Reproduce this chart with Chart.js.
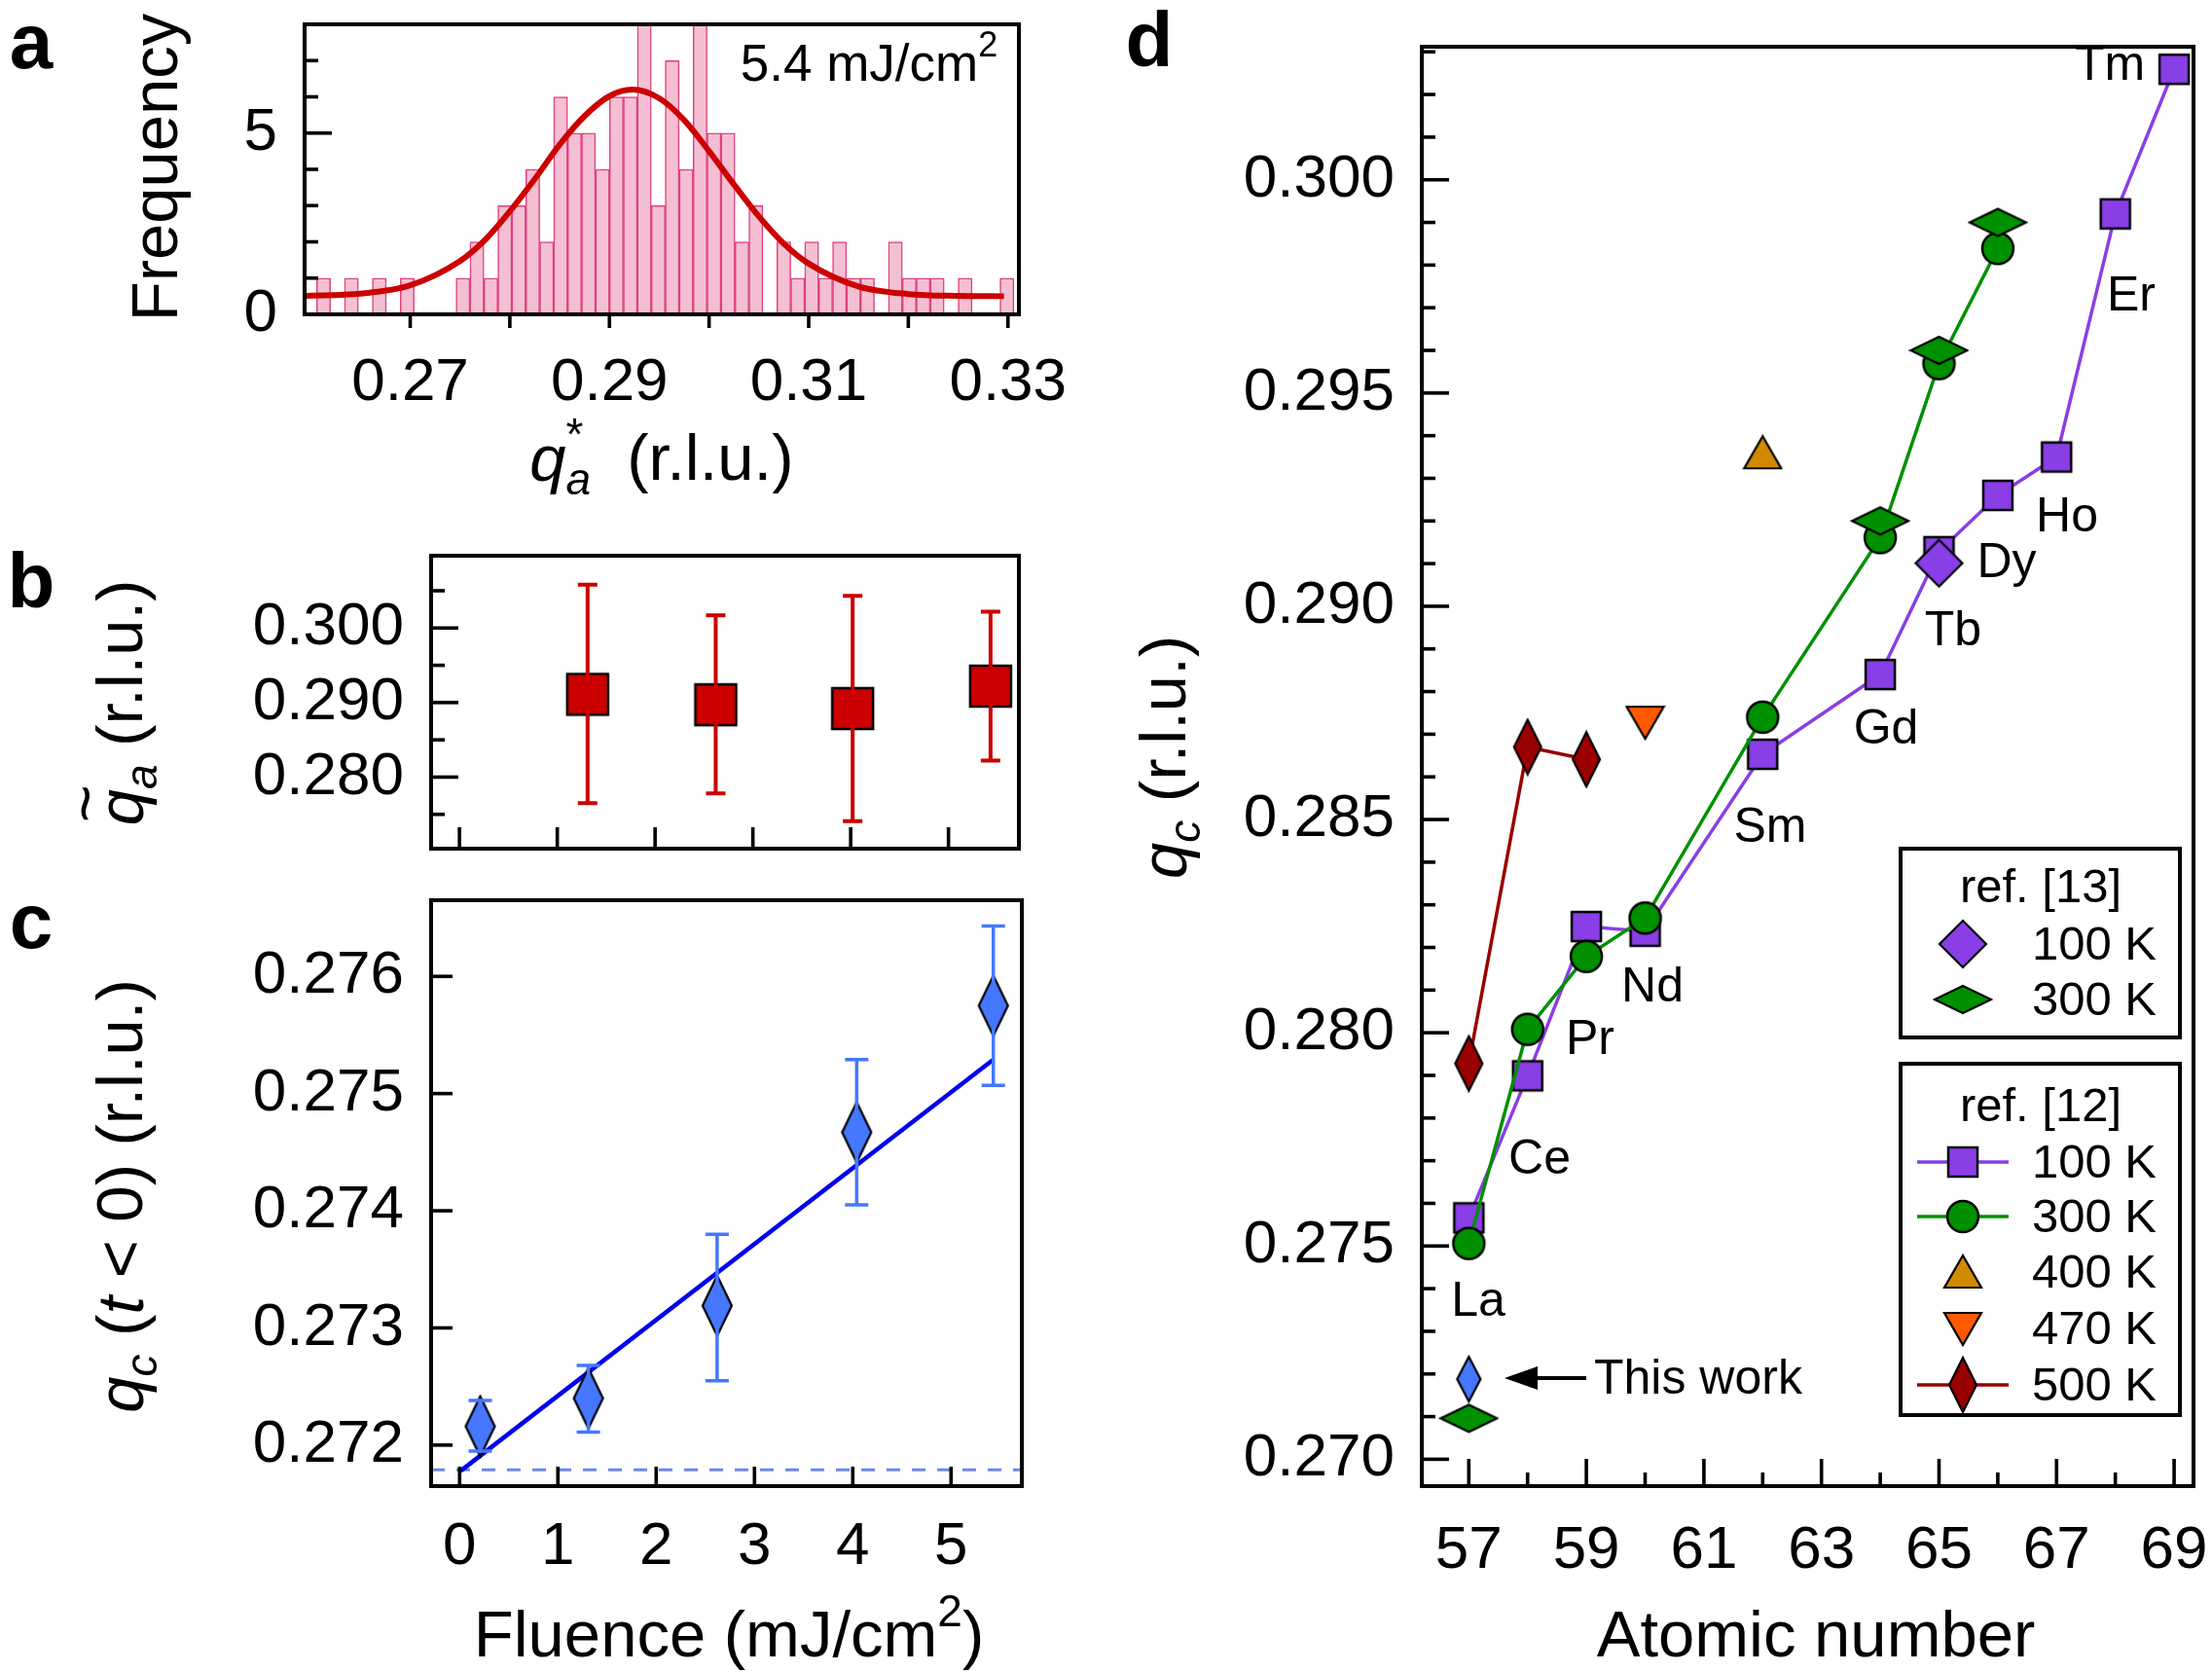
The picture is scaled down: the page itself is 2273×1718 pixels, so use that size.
<!DOCTYPE html>
<html><head><meta charset="utf-8">
<script src="https://cdn.jsdelivr.net/npm/chart.js@4"></script>
<style>
body{margin:0;background:#fff;width:2273px;height:1718px;overflow:hidden;position:relative}
canvas{position:absolute}
</style></head><body>
<canvas id="ov" width="2273" height="1718" style="left:0;top:0;z-index:10;pointer-events:none"></canvas>
<script>
// ---------- DATA ----------
// Panel a: histogram
const histCenters = [];
const histCounts = [1,0,1,0,1,0,1,0,0,0,1,2,1,3,3,4,2,6,5,5,4,6,6,8,3,7,4,8,5,5,2,3,0,2,1,2,1,2,1,1,0,2,1,1,1,0,1,0,0,1];
const histStart = 0.2606, histBin = 0.0014;
for (let i=0;i<histCounts.length;i++) histCenters.push(+(histStart+histBin*(i+0.5)).toFixed(5));
const fitX = [0.2594,0.265,0.27,0.275,0.2775,0.28,0.2825,0.285,0.2875,0.29,0.2923,0.295,0.2975,0.30,0.3025,0.305,0.3075,0.31,0.315,0.32,0.325,0.3296];
const fitY = [0.51,0.57,0.80,1.47,2.05,2.84,3.73,4.68,5.47,6.02,6.2,5.96,5.36,4.5,3.58,2.7,1.95,1.4,0.77,0.56,0.51,0.5];
// Panel b
const bFluence = [1.31,2.62,4.02,5.43];
const bQa = [0.2911,0.2897,0.2892,0.2922];
const bLo = [0.2765,0.2778,0.2741,0.2822];
const bHi = [0.3058,0.3017,0.3043,0.3022];
// Panel c
const cFluence = [0.21,1.31,2.62,4.04,5.43];
const cQc = [0.27216,0.2724,0.27319,0.27467,0.27575];
const cLo = [0.27195,0.27211,0.27255,0.27405,0.27507];
const cHi = [0.27238,0.27268,0.2738,0.27529,0.27643];
const cFitX = [0.01,5.43], cFitY = [0.27178,0.27529];
const cBaseX = [-0.29,5.72], cBaseY = [0.27179,0.27179];
// Panel d
const z100 = [57,58,59,60,62,64,65,66,67,68,69];
const q100 = [0.27566,0.27899,0.28249,0.28238,0.28653,0.2884,0.29128,0.2926,0.2935,0.2992,0.30259];
const z300 = [57,58,59,60,62,64,65,66];
const q300 = [0.27506,0.28008,0.28179,0.28269,0.2874,0.29161,0.29569,0.29839];
const z13_100 = [65], q13_100 = [0.29101];
const z13_300 = [57,64,65,66], q13_300 = [0.27096,0.2920,0.2960,0.2990];
const z400 = [62], q400 = [0.2936];
const z470 = [60], q470 = [0.28728];
const z500 = [57,58,59], q500 = [0.27928,0.2867,0.28641];
const zThis = [57], qThis = [0.27188];
const elemNames = ['La','Ce','Pr','Nd','Sm','Gd','Tb','Dy','Ho','Er','Tm'];
const elemPos = [[1519,1338],[1582,1192],[1634,1069],[1698,1015],[1819,851],[1938,750],[2007,649],[2062,579],[2124,532],[2190,305],[2168,68]];
const aXLabels=[0.27,0.29,0.31,0.33], aYLabels=[0,5];
const bYLabels=[0.28,0.29,0.30], cYLabels=[0.272,0.273,0.274,0.275,0.276], cXLabels=[0,1,2,3,4,5];
const dYLabels=[0.270,0.275,0.280,0.285,0.290,0.295,0.300], dXLabels=[57,59,61,63,65,67,69];

Chart.defaults.font.family = "'Liberation Sans', Arial, sans-serif";
Chart.defaults.color = '#000';
const FONT = "'Liberation Sans', Arial, sans-serif";
const PURPLE='#8a3ee6', GREEN='#009000', ORANGE='#d18a00', RED470='#ff5a00', RED500='#990000', BLUE='#4577ff';

// ---------- marker images ----------
function mk(w,h,draw){const c=document.createElement('canvas');c.width=w+4;c.height=h+4;const x=c.getContext('2d');x.translate(2,2);draw(x,w,h);return c;}
function diamond(w,h,fill){return mk(w,h,(x,w,h)=>{x.beginPath();x.moveTo(w/2,0);x.lineTo(w,h/2);x.lineTo(w/2,h);x.lineTo(0,h/2);x.closePath();x.fillStyle=fill;x.fill();x.lineWidth=2.2;x.strokeStyle='#000';x.stroke();});}
function square(s,fill){return mk(s,s,(x,w,h)=>{x.fillStyle=fill;x.fillRect(1,1,w-2,h-2);x.lineWidth=2.5;x.strokeStyle='#000';x.strokeRect(1,1,w-2,h-2);});}
function circle(s,fill){return mk(s,s,(x,w,h)=>{x.beginPath();x.arc(w/2,h/2,w/2-1,0,7);x.fillStyle=fill;x.fill();x.lineWidth=2.5;x.strokeStyle='#000';x.stroke();});}
function tri(w,h,fill,down){return mk(w,h,(x,w,h)=>{x.beginPath();if(down){x.moveTo(0,1);x.lineTo(w,1);x.lineTo(w/2,h);}else{x.moveTo(w/2,0);x.lineTo(w,h-1);x.lineTo(0,h-1);}x.closePath();x.fillStyle=fill;x.fill();x.lineWidth=2.2;x.strokeStyle='#000';x.stroke();});}
const M = {
  bSq: square(44,'#cc0000'),
  cDia: diamond(30,62,BLUE),
  sq: square(32,PURPLE),
  circ: circle(34,GREEN),
  d13p: diamond(48,48,PURPLE),
  d13g: diamond(58,28,GREEN),
  d500: diamond(28,56,RED500),
  dThis: diamond(24,46,BLUE),
  t400: tri(38,34,ORANGE,false),
  t470: tri(38,34,RED470,true)
};

// ---------- helpers ----------
function pts(xs,ys){return xs.map((x,i)=>({x,y:ys[i]}));}
function fixW(w){return s=>{s.width=w;s.paddingTop=0;s.paddingBottom=0;s.paddingLeft=0;s.paddingRight=0;};}
function fixH(h){return s=>{s.height=h;s.paddingTop=0;s.paddingBottom=0;s.paddingLeft=0;s.paddingRight=0;};}
function setTicks(vals){return s=>{s.ticks=vals.map(v=>({value:v}));};}
const PADR=60;
function place(id,plotL,plotT,plotR,plotB,yw,xh){
  const c=document.createElement('canvas');c.id=id;
  const L=plotL-yw, T=plotT-12, W=plotR-L+PADR, H=plotB-T+xh;
  c.width=W;c.height=H;c.style.left=L+'px';c.style.top=T+'px';c.style.width=W+'px';c.style.height=H+'px';
  document.body.appendChild(c);return c;
}
// custom plugin: frame, ticks, error bars
const deco = {
  id:'deco',
  afterDatasetsDraw(chart,args,o){
    const ctx=chart.ctx, xs=chart.scales.x, ys=chart.scales.y;
    ctx.save();
    if(o.err){
      const e=o.err;ctx.strokeStyle=e.color;ctx.lineWidth=e.lw;
      e.x.forEach((xv,i)=>{const px=xs.getPixelForValue(xv),p1=ys.getPixelForValue(e.lo[i]),p2=ys.getPixelForValue(e.hi[i]);
        ctx.beginPath();ctx.moveTo(px,p1);ctx.lineTo(px,p2);
        ctx.moveTo(px-e.cap,p1);ctx.lineTo(px+e.cap,p1);ctx.moveTo(px-e.cap,p2);ctx.lineTo(px+e.cap,p2);ctx.stroke();});
    }
    ctx.restore();
  },
  afterDraw(chart,args,o){
    const ctx=chart.ctx, a=chart.chartArea, xs=chart.scales.x, ys=chart.scales.y;
    ctx.save();ctx.strokeStyle='#000';ctx.lineWidth=3.6;
    (o.yt||[]).forEach(t=>{const p=ys.getPixelForValue(t[0]);ctx.beginPath();ctx.moveTo(a.left,p);ctx.lineTo(a.left+t[1],p);ctx.stroke();});
    (o.xt||[]).forEach(t=>{const p=xs.getPixelForValue(t[0]);ctx.beginPath();
      if(o.xOut){ctx.moveTo(p,a.bottom);ctx.lineTo(p,a.bottom+t[1]);}else{ctx.moveTo(p,a.bottom);ctx.lineTo(p,a.bottom-t[1]);}ctx.stroke();});
    ctx.lineWidth=4;ctx.strokeRect(a.left,a.top,a.right-a.left,a.bottom-a.top);
    ctx.restore();
  }
};
Chart.register(deco);
function range(a,b,st){const r=[];for(let v=a;v<=b+1e-9;v+=st)r.push(+v.toFixed(6));return r;}
const tickFont={size:62,family:FONT};
function baseScales(xmin,xmax,ymin,ymax,yw,xh,xLab,yLab,yFmt,xFmt,xPad){
  return {
    x:{type:'linear',min:xmin,max:xmax,offset:false,grid:{display:false},border:{display:false},
       afterFit:fixH(xh),afterBuildTicks:setTicks(xLab),
       ticks:{display:xLab.length>0,font:tickFont,padding:xPad||16,maxRotation:0,autoSkip:false,callback:xFmt||(v=>v)}},
    y:{type:'linear',min:ymin,max:ymax,grid:{display:false},border:{display:false},
       afterFit:fixW(yw),afterBuildTicks:setTicks(yLab),
       ticks:{font:tickFont,padding:20,autoSkip:false,callback:yFmt||(v=>v)}}
  };
}
const common={responsive:false,animation:false,devicePixelRatio:1,events:[],layout:{padding:{top:12,right:PADR}},
  plugins:{legend:{display:false},tooltip:{enabled:false}}};
function opts(scales,deco){return Object.assign({},common,{scales,plugins:Object.assign({},common.plugins,{deco})});}

// ---------- Panel a ----------
new Chart(place('ca',313,25,1047,323,110,110),{
  data:{datasets:[
    {type:'line',data:pts(fitX,fitY),borderColor:'#cc0000',borderWidth:6,pointRadius:0,tension:0.4,cubicInterpolationMode:'monotone',order:0},
    {type:'bar',data:pts(histCenters,histCounts),backgroundColor:'#f4bfd3',borderColor:'#e0407f',borderWidth:1.5,barPercentage:1,categoryPercentage:1,grouped:false,order:1}
  ]},
  options:opts(baseScales(0.2594,0.3311,0,8,110,110,aXLabels,aYLabels,v=>v,v=>v.toFixed(2),26),
    {yt:range(0,8,1).map(v=>[v,v%5===0?28:14]),xt:range(0.27,0.33,0.01).map(v=>[v,14]),xOut:true})
});
// ---------- Panel b ----------
new Chart(place('cb',443,571,1047,872,200,12),{
  type:'line',
  data:{datasets:[{data:pts(bFluence,bQa),showLine:false,pointStyle:M.bSq}]},
  options:opts(baseScales(-0.29,5.72,0.2704,0.3097,200,12,[],bYLabels,v=>v.toFixed(3)),
    {yt:range(0.275,0.305,0.005).map(v=>[v,Math.round(v*1000)%10===0?28:14]),xt:range(0,5,1).map(v=>[v,22]),
     err:{x:bFluence,lo:bLo,hi:bHi,color:'#cc0000',lw:4,cap:10}})
});
// ---------- Panel c ----------
new Chart(place('cc',443,925,1050,1527,200,110),{
  type:'line',
  data:{datasets:[
    {data:pts(cFitX,cFitY),borderColor:'#0000ee',borderWidth:4.5,pointRadius:0,order:1},
    {data:pts(cBaseX,cBaseY),borderColor:'#6f86ea',borderWidth:3,borderDash:[14,12],pointRadius:0,order:2},
    {data:pts(cFluence,cQc),showLine:false,pointStyle:M.cDia,order:0}
  ]},
  options:opts(baseScales(-0.29,5.72,0.27165,0.27665,200,110,cXLabels,cYLabels,v=>v.toFixed(3),v=>v,18),
    {yt:cYLabels.map(v=>[v,22]),xt:range(0,5,1).map(v=>[v,20]),
     err:{x:cFluence,lo:cLo,hi:cHi,color:'#4577ff',lw:3.5,cap:12}})
});
// ---------- Panel d ----------
new Chart(place('cd',1461,48,2254,1527,200,120),{
  type:'line',
  data:{datasets:[
    {data:pts(z500,q500),borderColor:RED500,borderWidth:3.5,pointStyle:M.d500,order:5},
    {data:pts(z100,q100),borderColor:PURPLE,borderWidth:3.5,pointStyle:M.sq,order:4},
    {data:pts(z300,q300),borderColor:GREEN,borderWidth:3.5,pointStyle:M.circ,order:3},
    {data:pts(z400,q400),showLine:false,pointStyle:M.t400,order:2},
    {data:pts(z470,q470),showLine:false,pointStyle:M.t470,order:2},
    {data:pts(z13_100,q13_100),showLine:false,pointStyle:M.d13p,order:1},
    {data:pts(z13_300,q13_300),showLine:false,pointStyle:M.d13g,order:1},
    {data:pts(zThis,qThis),showLine:false,pointStyle:M.dThis,order:0}
  ]},
  options:opts(baseScales(56.2,69.33,0.26937,0.30312,200,120,dXLabels,dYLabels,v=>v.toFixed(3),v=>v,22),
    {yt:range(0.270,0.303,0.001).map(v=>[v,Math.round(v*1000)%5===0?28:14]),xt:range(57,69,1).map(v=>[v,v%2?28:14])})
});

// ---------- overlay text ----------
const ov=document.getElementById('ov').getContext('2d');
function runs(ctx,cx,cy,rs,size,rot){
  ctx.save();ctx.translate(cx,cy);if(rot)ctx.rotate(-Math.PI/2);
  ctx.textBaseline='middle';ctx.fillStyle='#000';
  const fontOf=r=>(r.it?'italic ':'')+Math.round(size*((r.sub||r.sup)?0.68:1))+'px '+FONT;
  let W=0;rs.forEach(r=>{ctx.font=fontOf(r);r.w=ctx.measureText(r.t).width;if(!r.over&&!r.back)W+=r.w;});
  let x=-W/2, last=0, lastX=0;
  rs.forEach(r=>{ctx.font=fontOf(r);let dy=r.sub?size*0.3:r.sup?-size*0.38:0;
    if(r.over){ctx.fillText(r.t,lastX+(last-r.w)/2+size*0.06,dy-size*0.55);return;}
    if(r.back){ctx.fillText(r.t,lastX,dy);x=Math.max(x,lastX+r.w);return;}
    ctx.fillText(r.t,x,dy);last=r.w;lastX=x;x+=r.w;});
  ctx.restore();
}
const TS=67;
runs(ov,676,475,[{t:'q',it:1},{t:'*',sup:1},{t:'a',it:1,sub:1,back:1},{t:'  (r.l.u.)'}],TS);
runs(ov,164,172,[{t:'Frequency'}],TS,true);
runs(ov,128,722,[{t:'q',it:1},{t:'~',over:1},{t:'a',it:1,sub:1},{t:' (r.l.u.)'}],TS,true);
runs(ov,128,1229,[{t:'q',it:1},{t:'c',it:1,sub:1},{t:' ('},{t:'t',it:1},{t:' < 0) (r.l.u.)'}],TS,true);
runs(ov,749,1684,[{t:'Fluence (mJ/cm'},{t:'2',sup:1},{t:')'}],TS);
runs(ov,1200,778,[{t:'q',it:1},{t:'c',it:1,sub:1},{t:' (r.l.u.)'}],TS,true);
runs(ov,1866,1684,[{t:'Atomic number'}],TS);
runs(ov,893,68,[{t:'5.4 mJ/cm'},{t:'2',sup:1}],53);
ov.font='bold 80px '+FONT;ov.textBaseline='middle';ov.textAlign='center';
[['a',32,48],['b',32,602],['c',32,952],['d',1181,46]].forEach(p=>ov.fillText(p[0],p[1],p[2]));
ov.font='50px '+FONT;
elemNames.forEach((n,i)=>ov.fillText(n,elemPos[i][0],elemPos[i][1]));
// arrow "This work"
ov.strokeStyle='#000';ov.lineWidth=4;ov.beginPath();ov.moveTo(1630,1416);ov.lineTo(1570,1416);ov.stroke();
ov.beginPath();ov.moveTo(1546,1416);ov.lineTo(1580,1404);ov.lineTo(1580,1428);ov.closePath();ov.fill();
ov.textAlign='left';ov.fillText('This work',1638,1418);
// legends
function legBox(x1,y1,x2,y2){ov.lineWidth=4;ov.strokeRect(x1,y1,x2-x1,y2-y1);}
legBox(1953,872,2240,1066);legBox(1953,1093,2240,1454);
ov.font='49px '+FONT;ov.textAlign='center';
ov.fillText('ref. [13]',2097,913);ov.fillText('ref. [12]',2097,1138);
const legRows=[[970,M.d13p,null,'100 K'],[1027,M.d13g,null,'300 K'],[1194,M.sq,PURPLE,'100 K'],[1250,M.circ,GREEN,'300 K'],[1307,M.t400,null,'400 K'],[1365,M.t470,null,'470 K'],[1423,M.d500,RED500,'500 K']];
legRows.forEach(r=>{
  if(r[2]){ov.strokeStyle=r[2];ov.lineWidth=3.5;ov.beginPath();ov.moveTo(1970,r[0]);ov.lineTo(2064,r[0]);ov.stroke();}
  ov.drawImage(r[1],2017-r[1].width/2,r[0]-r[1].height/2);
  ov.textAlign='left';ov.fillStyle='#000';ov.fillText(r[3],2088,r[0]+2);
});
</script></body></html>
